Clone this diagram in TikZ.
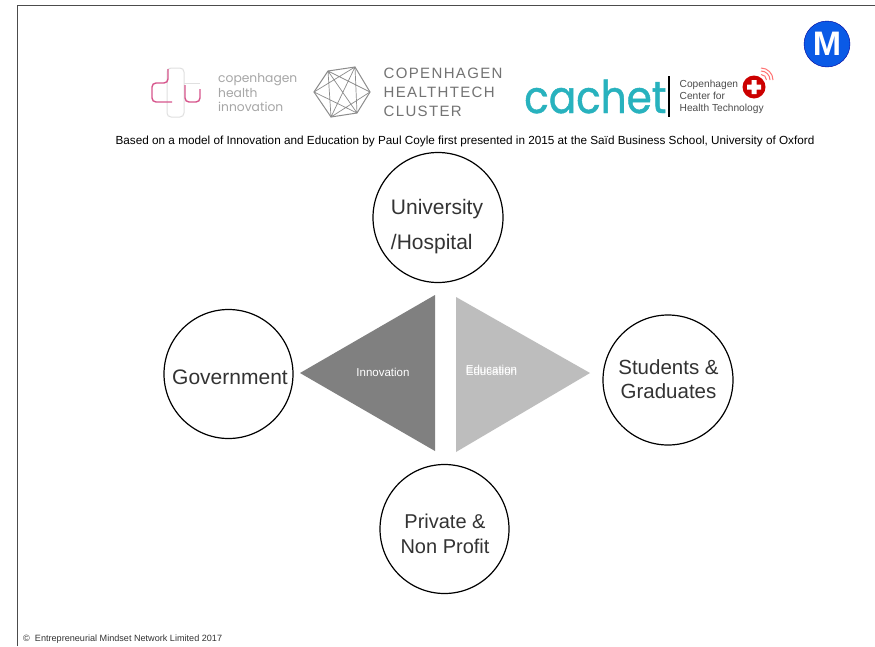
\documentclass[tikz,border=0pt]{standalone}
\usepackage{fontspec}
\setmainfont{Liberation Sans}
\newfontfamily\cachetfont[FakeBold=1,FakeStretch=0.9]{Poppins}
\newfontfamily\chifont{Poppins}
\usetikzlibrary{calc}

\definecolor{cachetteal}{RGB}{40,178,190}
\definecolor{chipink}{RGB}{215,85,140}
\definecolor{badgeblue}{RGB}{10,90,230}

\tikzset{
    circlenode/.style={draw, circle, line width=1.2pt, inner sep=0pt, minimum size=#1},
    circlelabel/.style={text=black!80, align=center, inner sep=0pt, font=\fontsize{20.5}{24.5}\selectfont},
    trilabel/.style={text=white, font=\fontsize{11.5}{14}\selectfont, inner sep=0pt},
    logotext/.style={text=black!45, anchor=west, inner sep=0pt, align=left},
    pinkline/.style={draw=chipink, line width=1.4pt, rounded corners=4pt},
    hexline/.style={draw=black!45, line width=0.7pt},
}

\begin{document}
\begin{tikzpicture}[x=1pt, y=-1pt]
    \useasboundingbox (0, 0) rectangle (875, 646);
    \fill[white] (0, 0) rectangle (875, 646);

    % frame
    \draw[black!70, line width=0.8pt] (17, 646) -- (17, 5.5) -- (875, 5.5);

    % circles
    \node[circlenode=130pt] (university) at (438, 217.5) {};
    \node[circlenode=129pt] (government) at (228.5, 374) {};
    \node[circlenode=130pt] (students) at (668, 380) {};
    \node[circlenode=129pt] (private) at (444.5, 529) {};

    \node[circlelabel, align=left, font=\fontsize{21}{35}\selectfont] (universitytext) at (437, 227) {University\\/Hospital};
    \node[circlelabel, font=\fontsize{21}{25}\selectfont] (governmenttext) at (230, 377) {Government};
    \node[circlelabel] (studentstext) at (668.5, 379) {Students \&\\Graduates};
    \node[circlelabel, font=\fontsize{20}{24.5}\selectfont] (privatetext) at (445, 534) {Private \&\\Non Profit};

    % triangles
    \fill[black!50] (300, 373) -- (435, 295) -- (435, 451) -- cycle;
    \fill[black!26] (590, 373) -- (456, 297) -- (456, 452) -- cycle;
    \node[trilabel] (innovation) at (383, 372) {Innovation};
    \node[trilabel] (education) at (491.5, 369.5) {Education};
    \node[trilabel] (educationb) at (491.5, 371) {Education};

    % caption lines
    \node[inner sep=0pt, font=\fontsize{11.75}{14}\selectfont] (basedon) at (465, 141.5) {Based on a model of Innovation and Education by Paul Coyle first presented in 2015 at the Saïd Business School, University of Oxford};
    \node[inner sep=0pt, anchor=west, text=black!80, font=\fontsize{9.1}{11}\selectfont] (copyright) at (23, 639.5) {©\ \ Entrepreneurial Mindset Network Limited 2017};

    % first logo
    \draw[black!12, line width=1pt, rounded corners=4pt] (167, 68) rectangle (184, 117);
    \draw[black!12, line width=0.7pt] (184, 83) -- (200, 83);
    \draw[pinkline] (168, 69) -- (168, 83) -- (152, 83) -- (152, 102) -- (172, 102);
    \draw[pinkline] (185, 85) -- (185, 102) -- (200, 102) -- (200, 89);
    \node[logotext, font=\chifont\fontsize{12.3}{14.5}\selectfont, text=black!35] (chi) at (218, 92.5) {copenhagen\\health\\innovation};

    % second logo
    \draw[hexline, line width=1pt] (314, 92) -- (328, 71) -- (355, 67) -- (370, 92) -- (357, 113) -- (331, 117) -- cycle;
    \draw[hexline] (328, 71) -- (357, 113) (355, 67) -- (331, 117)
        (328, 71) -- (331, 117) (355, 67) -- (357, 113) (314, 92) -- (355, 67) (331, 117) -- (370, 92)
        (328, 71) -- (370, 92) (314, 92) -- (357, 113);
    \node[logotext, font=\addfontfeature{LetterSpace=9}\fontsize{15}{19}\selectfont, text=black!55] (cluster) at (383.5, 92) {COPENHAGEN\\HEALTHTECH\\CLUSTER};

    % third logo
    \node[inner sep=0pt, anchor=base west, text=cachetteal, font=\cachetfont\fontsize{45}{47}\selectfont] (cachet) at (524, 113) {cachet};
    \draw[black, line width=2pt] (669, 76) -- (669, 117);
    \node[logotext, text=black!70, font=\fontsize{10.2}{12}\selectfont] (cph) at (679.5, 97) {Copenhagen\\Center for\\Health Technology};
    \fill[red!80!black] (754, 87) circle (11.5pt);
    \fill[white] (751.5, 80) rectangle (756.5, 94) (747, 84.5) rectangle (761, 89.5);
    \foreach \r in {5.5,9,12} {
        \draw[red!55, line width=1pt] (761, {80-\r}) .. controls ({761+0.55*\r}, {80-\r}) and ({761+\r}, {80-0.55*\r}) .. ({761+\r}, 80);
    }

    % blue badge
    \node[circle, minimum size=46pt, inner sep=0pt, fill=badgeblue, draw=blue!60!black, text=white, font=\fontsize{34}{34}\bfseries\selectfont] (badge) at (827, 44) {M};
\end{tikzpicture}
\end{document}
